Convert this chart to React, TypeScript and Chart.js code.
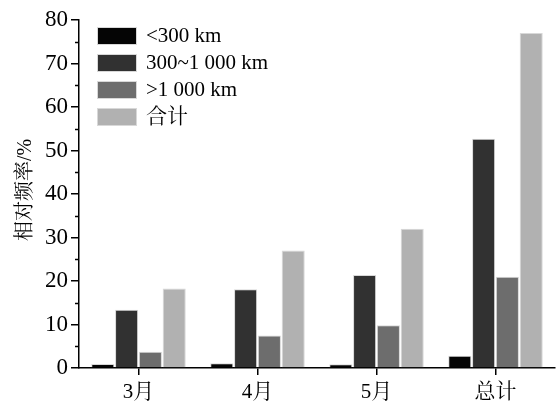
import React, { useEffect, useRef } from "react";
import { Chart, registerables } from "chart.js";

Chart.register(...registerables);

const categories = ["3月", "4月", "5月", "总计"];
const seriesNames = ["<300 km", "300~1 000 km", ">1 000 km", "合计"];
const below300 = [0.9, 1.1, 0.85, 2.8];
const from300to1000 = [13.4, 18.1, 21.4, 52.7];
const above1000 = [3.75, 7.5, 9.8, 21.0];
const totalValues = [18.3, 27.0, 32.0, 77.0];
const seriesColors = ["#050505", "#313131", "#6d6d6d", "#b1b1b1"];
const yMin = 0;
const yMax = 80;
const yStep = 10;
const yMinorTicks = [5, 15, 25, 35, 45, 55, 65, 75];
const yTitle = "相对频率/%";

const FONT = "'Liberation Serif', 'Noto Serif CJK SC', 'Noto Sans CJK SC', serif";

const overlayPlugin = {
  id: "overlay",
  afterDraw(chart: any) {
    const ctx = chart.ctx;
    const ys = chart.scales.y;
    const area = chart.chartArea;
    ctx.save();
    ctx.strokeStyle = "#000";
    ctx.lineWidth = 1.5;
    yMinorTicks.forEach((v) => {
      const py = Math.round(ys.getPixelForValue(v)) + 0.5;
      ctx.beginPath();
      ctx.moveTo(area.left - 4, py);
      ctx.lineTo(area.left, py);
      ctx.stroke();
    });
    ctx.fillStyle = "#000";
    ctx.font = `20px ${FONT}`;
    ctx.textAlign = "center";
    ctx.textBaseline = "middle";
    ctx.translate(26, (area.top + area.bottom) / 2 - 4);
    ctx.rotate(-Math.PI / 2);
    ctx.fillText(yTitle, 0, 0);
    ctx.restore();

    ctx.save();
    ctx.font = `21px ${FONT}`;
    ctx.textAlign = "left";
    ctx.textBaseline = "middle";
    seriesNames.forEach((name, i) => {
      const top = 27 + i * 27;
      ctx.fillStyle = seriesColors[i];
      ctx.fillRect(97, top, 40, 18);
      ctx.strokeStyle = "#d8d8d8";
      ctx.lineWidth = 1;
      ctx.strokeRect(97.5, top + 0.5, 39, 17);
      ctx.fillStyle = "#000";
      ctx.fillText(name, 146, top + 9);
    });
    ctx.restore();
  },
};

export default function App() {
  const canvasRef = useRef<HTMLCanvasElement | null>(null);

  useEffect(() => {
    document.body.style.margin = "0";
    const canvas = canvasRef.current;
    if (!canvas) return;
    const seriesData = [below300, from300to1000, above1000, totalValues];
    const chart = new Chart(canvas, {
      type: "bar",
      data: {
        labels: categories,
        datasets: seriesData.map((d, i) => ({
          label: seriesNames[i],
          data: d,
          backgroundColor: seriesColors[i],
          borderColor: "#d8d8d8",
          borderWidth: 1,
          borderSkipped: "bottom",
          categoryPercentage: 0.8,
          barPercentage: 0.97,
        })),
      },
      options: {
        responsive: false,
        animation: false,
        devicePixelRatio: 1,
        layout: { padding: { top: 20, right: 2, left: 0, bottom: 0 } },
        plugins: {
          legend: { display: false },
          tooltip: { enabled: false },
        },
        scales: {
          x: {
            offset: true,
            grid: {
              display: true,
              drawOnChartArea: false,
              drawTicks: true,
              tickLength: 7,
              color: "#000",
              lineWidth: 1.5,
              offset: false,
            },
            border: { display: true, color: "#000", width: 1.5 },
            ticks: {
              color: "#000",
              font: { family: FONT, size: 21 },
              padding: 5,
              maxRotation: 0,
            },
            afterFit(scale: any) {
              scale.height = 35;
            },
          },
          y: {
            min: yMin,
            max: yMax,
            grid: {
              display: true,
              drawOnChartArea: false,
              drawTicks: true,
              tickLength: 8,
              color: "#000",
              lineWidth: 1.5,
            },
            border: { display: true, color: "#000", width: 1.5 },
            ticks: {
              stepSize: yStep,
              color: "#000",
              font: { family: FONT, size: 23 },
              padding: 3,
            },
            afterFit(scale: any) {
              scale.width = 79;
            },
          },
        },
      },
      plugins: [overlayPlugin],
    });
    return () => chart.destroy();
  }, []);

  return (
    <div style={{ position: "fixed", left: 0, top: 0, width: 557, height: 403, background: "#fff" }}>
      <canvas ref={canvasRef} width={557} height={403} />
    </div>
  );
}
